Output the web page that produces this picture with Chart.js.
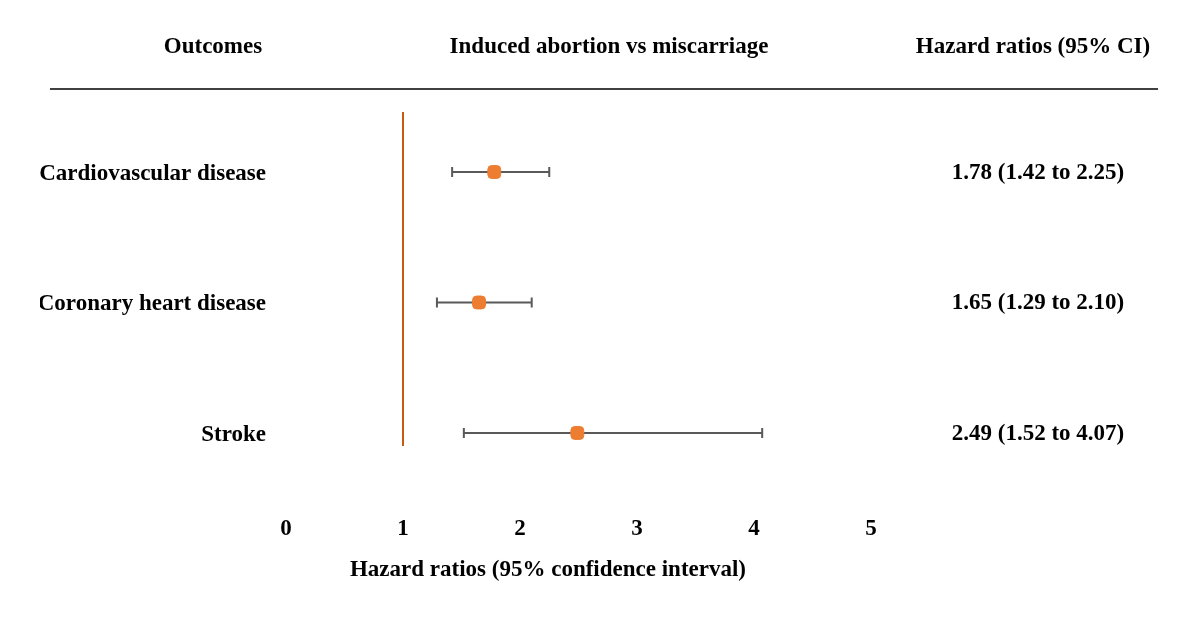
<!DOCTYPE html>
<html>
<head>
<meta charset="utf-8">
<script src="https://cdn.jsdelivr.net/npm/chart.js@4/dist/chart.umd.min.js"></script>
<style>
  body { margin: 0; background: #fff; }
</style>
</head>
<body>
<canvas id="grafica" width="1200" height="621"></canvas>
<script>
// datos del forest plot
const outcomes = ["Cardiovascular disease", "Coronary heart disease", "Stroke"];
const rowPos = [3, 2, 1];
const hr = [1.78, 1.65, 2.49];
const lower = [1.42, 1.29, 1.52];
const upper = [2.25, 2.10, 4.07];
const hrText = ["1.78 (1.42 to 2.25)", "1.65 (1.29 to 2.10)", "2.49 (1.52 to 4.07)"];
const xTicks = [0, 1, 2, 3, 4, 5];
const refValue = 1;
const headers = ["Outcomes", "Induced abortion vs miscarriage", "Hazard ratios (95% CI)"];
const xTitle = "Hazard ratios (95% confidence interval)";

const serif = "'Liberation Serif', 'Times New Roman', serif";
const fontSize = 23;
const yMin = 0.9, yMax = 3.46;

// barras de error + cabecera + columna derecha + titulo del eje
const forestPlugin = {
  id: 'forest',
  beforeDatasetsDraw(chart) {
    const ctx = chart.ctx;
    const xs = chart.scales.x, ys = chart.scales.y;
    ctx.save();
    ctx.strokeStyle = '#595959';
    ctx.lineWidth = 2;
    for (let i = 0; i < hr.length; i++) {
      const y = ys.getPixelForValue(rowPos[i]);
      const x1 = xs.getPixelForValue(lower[i]);
      const x2 = xs.getPixelForValue(upper[i]);
      ctx.beginPath();
      ctx.moveTo(x1, y); ctx.lineTo(x2, y);
      ctx.moveTo(x1, y - 5); ctx.lineTo(x1, y + 5);
      ctx.moveTo(x2, y - 5); ctx.lineTo(x2, y + 5);
      ctx.stroke();
    }
    ctx.restore();
  },
  afterDraw(chart) {
    const ctx = chart.ctx;
    const ys = chart.scales.y;
    ctx.save();
    ctx.fillStyle = '#000';
    ctx.font = 'bold ' + fontSize + 'px ' + serif;
    ctx.textBaseline = 'middle';
    ctx.textAlign = 'center';
    ctx.fillText(headers[0], 213, 47);
    ctx.fillText(headers[1], 609, 47);
    ctx.fillText(headers[2], 1033, 47);
    ctx.strokeStyle = '#000';
    ctx.lineWidth = 1.5;
    ctx.beginPath();
    ctx.moveTo(50, 89); ctx.lineTo(1158, 89);
    ctx.stroke();
    for (let i = 0; i < hrText.length; i++) {
      ctx.fillText(hrText[i], 1038, ys.getPixelForValue(rowPos[i]) + 1);
    }
    ctx.fillText(xTitle, 548, 570);
    ctx.restore();
  }
};

const puntos = {
  label: 'HR',
  data: hr.map((v, i) => ({ x: v, y: rowPos[i] })),
  backgroundColor: '#ED7D31',
  borderColor: '#ED7D31',
  borderWidth: 1,
  pointStyle: 'rectRounded',
  pointRadius: 7.5,
  pointHoverRadius: 7.5,
  showLine: false,
};
const referencia = {
  type: 'line',
  label: 'ref',
  data: [{ x: refValue, y: yMin }, { x: refValue, y: yMax }],
  borderColor: '#C55A11',
  borderWidth: 2,
  pointRadius: 0,
  order: 2,
};

new Chart(document.getElementById('grafica'), {
  type: 'scatter',
  data: { datasets: [referencia, puntos] },
  options: {
    responsive: false,
    animation: false,
    devicePixelRatio: 1,
    layout: { padding: { left: 40, right: 329, top: 112, bottom: 0 } },
    plugins: { legend: { display: false }, tooltip: { enabled: false } },
    scales: {
      x: {
        type: 'linear', min: 0, max: 5,
        grid: { display: false, drawTicks: false },
        border: { display: false },
        afterBuildTicks: s => { s.ticks = xTicks.map(v => ({ value: v })); },
        afterFit: s => { s.height = 175; },
        ticks: { padding: 69, color: '#000', font: { family: serif, size: fontSize, weight: 'bold' } }
      },
      y: {
        type: 'linear', min: yMin, max: yMax,
        grid: { display: false, drawTicks: false },
        border: { display: false },
        afterBuildTicks: s => { s.ticks = rowPos.map(v => ({ value: v })); },
        afterFit: s => { s.width = 246; },
        ticks: { padding: 20, labelOffset: 2, color: '#000', font: { family: serif, size: fontSize, weight: 'bold' },
                 callback: v => outcomes[rowPos.indexOf(v)] }
      }
    }
  },
  plugins: [forestPlugin]
});
</script>
</body>
</html>
